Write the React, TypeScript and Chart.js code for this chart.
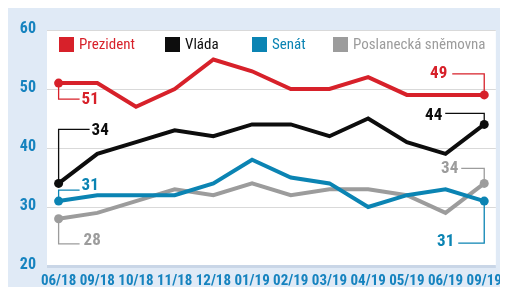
import React, { useEffect, useRef } from "react";
import { Chart, registerables } from "chart.js";

Chart.register(...registerables);

const categories = ["06/18", "09/18", "10/18", "11/18", "12/18", "01/19", "02/19", "03/19", "04/19", "05/19", "06/19", "09/19"];
const prezident = [51, 51, 47, 50, 55, 53, 50, 50, 52, 49, 49, 49];
const vlada = [34, 39, 41, 43, 42, 44, 44, 42, 45, 41, 39, 44];
const senat = [31, 32, 32, 32, 34, 38, 35, 34, 30, 32, 33, 31];
const snemovna = [28, 29, 31, 33, 32, 34, 32, 33, 33, 32, 29, 34];
const seriesNames = ["Prezident", "Vláda", "Senát", "Poslanecká sněmovna"];
const yTicks = [20, 30, 40, 50, 60];

const COLORS = ["#d7212a", "#0d0d0d", "#0b84b3", "#9c9c9c"];
const BG = "#e0eaf6";
const AXIS_BLUE = "#1683bf";
const FONT = "'Roboto Condensed', Roboto, sans-serif";

// leader-line label layout: [datasetIndex, pointSide, cornerDy, lineDx, textDx, textDy]
const ANNOTATIONS: Array<[number, "first" | "last", number, number, number, number]> = [
  [0, "first", 16, 21, 23, 17],
  [1, "first", -54, 31, 33, -53],
  [2, "first", -11, 21, 23, -15],
  [3, "first", 25, 21, 25, 22],
  [0, "last", -21, -32, -37, -21],
  [1, "last", -11, -39, -42, -9],
  [3, "last", -15, -23, -26, -15],
  [2, "last", 42, -26, -30, 41],
];
const LEGEND_X = [51, 157, 244, 325];

const bgPlugin = {
  id: "bgPlugin",
  beforeDraw(chart: any) {
    const { ctx, chartArea, width, height } = chart;
    ctx.save();
    ctx.fillStyle = BG;
    ctx.fillRect(0, 0, width, height);
    ctx.fillStyle = "#ffffff";
    ctx.fillRect(chartArea.left, chartArea.top, chartArea.right - chartArea.left, chartArea.bottom - chartArea.top);
    ctx.restore();
  },
};

const labelPlugin = {
  id: "labelPlugin",
  afterDatasetsDraw(chart: any) {
    const { ctx } = chart;
    ctx.save();
    ANNOTATIONS.forEach(([di, side, cdy, ldx, tdx, tdy]) => {
      const meta = chart.getDatasetMeta(di);
      const data = chart.data.datasets[di].data;
      const idx = side === "first" ? 0 : data.length - 1;
      const pt = meta.data[idx];
      const value = data[idx].y;
      const x = pt.x;
      const y = pt.y;
      ctx.strokeStyle = COLORS[di];
      ctx.lineWidth = 1.3;
      ctx.beginPath();
      ctx.moveTo(x, y);
      ctx.lineTo(x, y + cdy);
      ctx.lineTo(x + ldx, y + cdy);
      ctx.stroke();
      ctx.fillStyle = COLORS[di];
      ctx.font = `bold 17px ${FONT}`;
      ctx.textBaseline = "middle";
      ctx.textAlign = side === "first" ? "left" : "right";
      ctx.fillText(String(value), x + tdx, y + tdy);
    });
    ctx.restore();
  },
  afterDraw(chart: any) {
    const { ctx, chartArea } = chart;
    ctx.save();
    const top = chartArea.top + 7;
    chart.data.datasets.forEach((ds: any, i: number) => {
      const x = LEGEND_X[i];
      ctx.fillStyle = COLORS[i];
      ctx.fillRect(x, top, 15, 15);
      ctx.font = `15px ${FONT}`;
      ctx.textBaseline = "middle";
      ctx.textAlign = "left";
      ctx.fillText(ds.label, x + 20, top + 8);
    });
    ctx.restore();
  },
};

export default function App() {
  const ref = useRef<HTMLCanvasElement>(null);
  useEffect(() => {
    document.documentElement.style.overflow = "hidden";
    document.body.style.overflow = "hidden";
    const series = [prezident, vlada, senat, snemovna];
    const chart = new Chart(ref.current!, {
      type: "line",
      data: {
        datasets: series.map((arr, i) => ({
          label: seriesNames[i],
          data: arr.map((y, x) => ({ x, y })),
          borderColor: COLORS[i],
          backgroundColor: COLORS[i],
          borderWidth: 4,
          tension: 0,
          pointRadius: (c: any) => (c.dataIndex === 0 || c.dataIndex === arr.length - 1 ? 4.5 : 0),
          pointBorderWidth: 0,
          pointBackgroundColor: COLORS[i],
          clip: false as any,
        })),
      },
      options: {
        animation: false,
        responsive: false,
        devicePixelRatio: 1,
        layout: { padding: { top: 22, right: 0, left: 0, bottom: 0 } },
        plugins: { legend: { display: false }, tooltip: { enabled: false } },
        scales: {
          x: {
            type: "linear",
            min: -0.3,
            max: 11.3,
            afterBuildTicks: (scale: any) => {
              scale.ticks = categories.map((_, i) => ({ value: i }));
            },
            afterFit: (scale: any) => {
              scale.height = 21;
            },
            grid: { display: false, drawTicks: false, tickLength: 0 },
            border: { display: false },
            ticks: {
              autoSkip: false,
              maxRotation: 0,
              padding: 6,
              color: AXIS_BLUE,
              font: { family: FONT, size: 15, weight: "bold" },
              callback: (v: any) => categories[v] ?? "",
            },
          },
          y: {
            min: 20,
            max: 60,
            afterBuildTicks: (scale: any) => {
              scale.ticks = yTicks.map((v) => ({ value: v }));
            },
            afterFit: (scale: any) => {
              scale.width = 39;
            },
            border: { display: false },
            grid: {
              drawTicks: false,
              color: (c: any) => (c.tick && c.tick.value === 20 ? "#c9d6e7" : "#d9d9d9"),
              lineWidth: (c: any) => (c.tick && c.tick.value === 20 ? 3 : 1),
            },
            ticks: {
              padding: 11,
              labelOffset: -1,
              color: AXIS_BLUE,
              font: { family: FONT, size: 16, weight: "bold" },
            },
          },
        },
      },
      plugins: [bgPlugin, labelPlugin],
    } as any);
    return () => chart.destroy();
  }, []);
  return <canvas ref={ref} width={500} height={279} style={{ width: 500, height: 279, display: "block" }} />;
}
